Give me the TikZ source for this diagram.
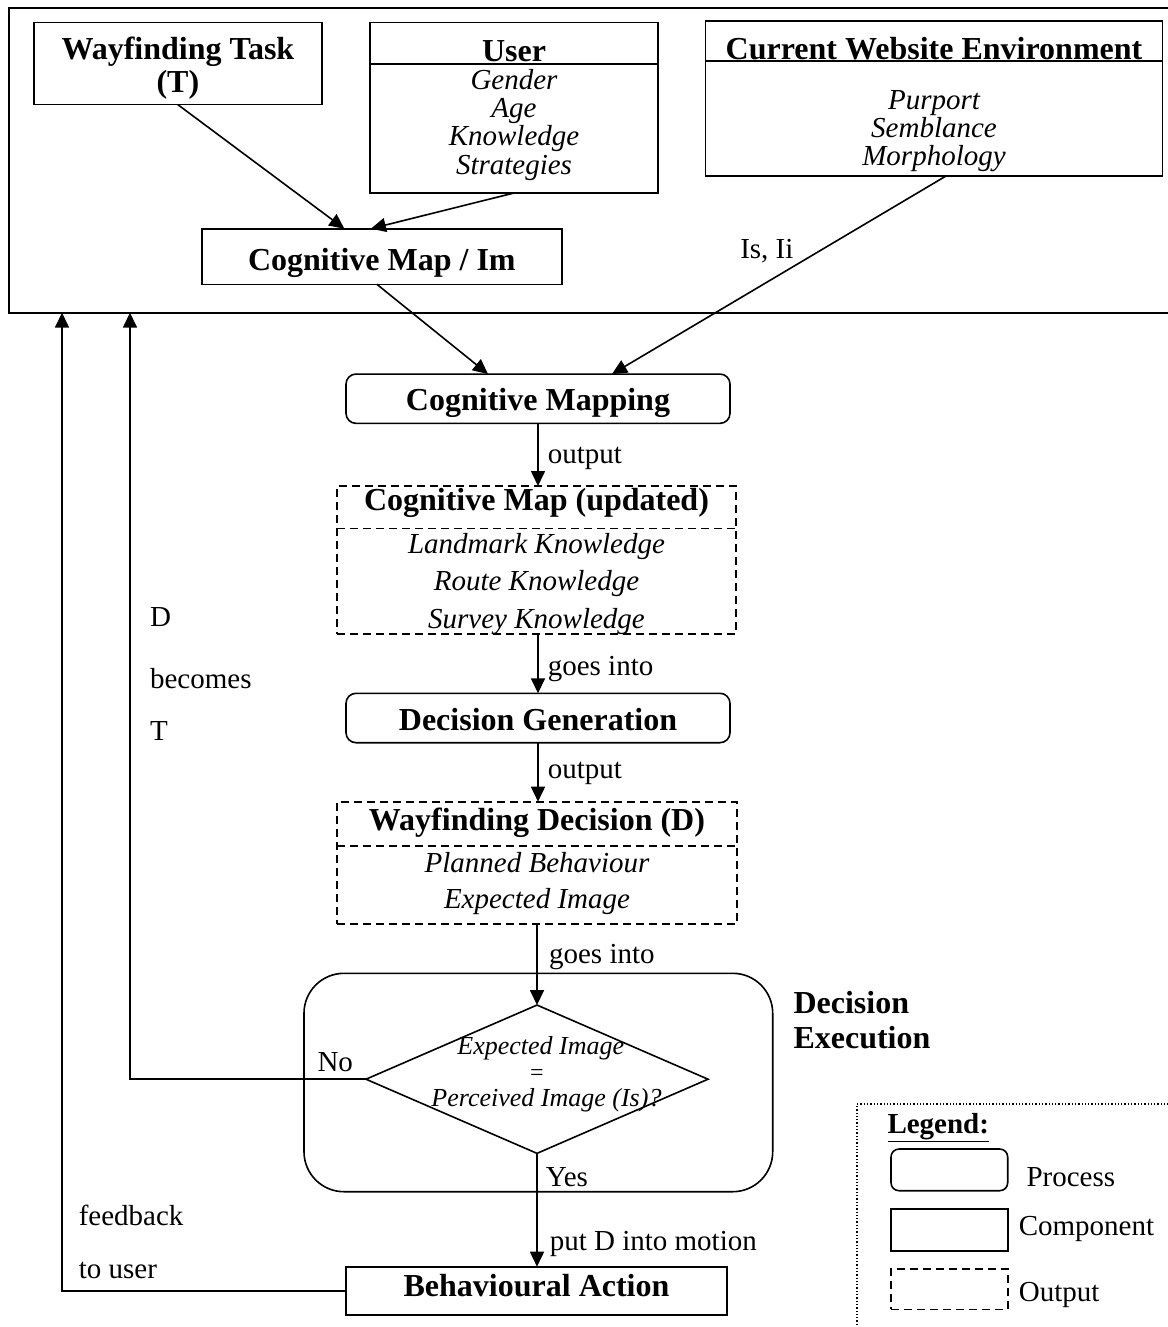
\documentclass[tikz,border=0pt]{standalone}
\usepackage{fontspec}
\setmainfont{Liberation Serif}
\usetikzlibrary{arrows.meta,shapes.geometric}
\begin{document}
\begin{tikzpicture}[x=1pt,y=-1pt,line width=1.6pt,
  box/.style={draw,rectangle,inner sep=0pt,outer sep=0pt},
  proc/.style={box,rounded corners=10pt},
  outbox/.style={box,dash pattern=on 8pt off 5pt},
  hd/.style={font=\fontsize{32}{36}\selectfont\bfseries,inner sep=0pt,anchor=base},
  itx/.style={font=\fontsize{29}{33}\selectfont\itshape,inner sep=0pt,anchor=base},
  ditx/.style={font=\fontsize{26}{30}\selectfont\itshape,inner sep=0pt,anchor=base},
  lbl/.style={font=\fontsize{29}{33}\selectfont,inner sep=0pt,anchor=base west},
  arr/.style={-{Triangle[length=15pt,width=14pt]},line width=1.6pt},
  divider/.style={line width=1.6pt},
]
\useasboundingbox (0,0) rectangle (1167,1327);

% outer frame (open to the right)
\node[box,minimum width=1191pt,minimum height=304.4pt] (frame) at (604.5,160.5) {};

% Wayfinding Task
\node[box,minimum width=288.3pt,minimum height=82pt] (task) at (177.9,63.7) {};
\node[hd] (taskt1) at (177.9,59.5) {Wayfinding Task};
\node[hd] (taskt2) at (177.9,93) {(T)};

% User
\node[box,minimum width=288pt,minimum height=170.3pt] (user) at (514,107.85) {};
\draw[divider] (user.west |- 0,64) -- (user.east |- 0,64);
\node[hd] (usert) at (514,62) {User};
\node[itx] (u1) at (514,89.3) {Gender};
\node[itx] (u2) at (514,117.5) {Age};
\node[itx] (u3) at (514,145.8) {Knowledge};
\node[itx] (u4) at (514,174) {Strategies};

% Current Website Environment
\node[box,minimum width=457pt,minimum height=154.7pt] (web) at (934,98.35) {};
\draw[divider] (web.west |- 0,61) -- (web.east |- 0,61);
\node[hd] (webt) at (934,59.5) {Current Website Environment};
\node[itx] (w1) at (934,109.3) {Purport};
\node[itx] (w2) at (934,137.6) {Semblance};
\node[itx] (w3) at (934,165.9) {Morphology};

% Cognitive Map / Im
\node[box,minimum width=360.3pt,minimum height=55.6pt] (cogim) at (381.85,256.5) {};
\node[hd] (cogimt) at (381.85,270.7) {Cognitive Map / Im};

% Cognitive Mapping
\node[proc,minimum width=384pt,minimum height=49.3pt] (cmap) at (538,398.7) {};
\node[hd] (cmapt) at (538,410.7) {Cognitive Mapping};

% Cognitive Map (updated)
\node[outbox,minimum width=399pt,minimum height=148pt] (cupd) at (536.5,560) {};
\draw[divider,dash pattern=on 8pt off 5pt] (cupd.west |- 0,528.3) -- (cupd.east |- 0,528.3);
\node[hd] (cupdt) at (536.5,510) {Cognitive Map (updated)};
\node[itx] (c1) at (536.5,553.3) {Landmark Knowledge};
\node[itx] (c2) at (536.5,590.7) {Route Knowledge};
\node[itx] (c3) at (536.5,628.3) {Survey Knowledge};

% Decision Generation
\node[proc,minimum width=384pt,minimum height=49.4pt] (decgen) at (538,718) {};
\node[hd] (decgent) at (538,730) {Decision Generation};

% Wayfinding Decision (D)
\node[outbox,minimum width=399.7pt,minimum height=122.3pt] (waydec) at (537,862.85) {};
\draw[divider,dash pattern=on 8pt off 5pt] (waydec.west |- 0,846) -- (waydec.east |- 0,846);
\node[hd] (waydect) at (537,830) {Wayfinding Decision (D)};
\node[itx] (d1) at (537,872.7) {Planned Behaviour};
\node[itx] (d2) at (537,908.3) {Expected Image};

% Decision Execution
\node[box,rounded corners=40pt,minimum width=468.7pt,minimum height=218.4pt] (exec) at (538.35,1082.5) {};
\node[hd,anchor=base west] (exect1) at (792.7,1013.3) {Decision};
\node[hd,anchor=base west] (exect2) at (792.7,1048.3) {Execution};

% Diamond
\node[draw,diamond,minimum width=342pt,minimum height=148.3pt,inner sep=0pt,outer sep=0pt] (dia) at (537,1079.2) {};
\node[ditx] (dia1) at (540.8,1054) {Expected Image};
\node[font=\fontsize{24}{28}\selectfont,inner sep=0pt,anchor=base] (dia2) at (537,1080) {=};
\node[ditx] (dia3) at (546.5,1106.7) {Perceived Image (Is)?};

% Behavioural Action
\node[box,minimum width=381pt,minimum height=48.3pt] (behav) at (536.5,1290.85) {};
\node[hd] (behavt) at (536.5,1296.7) {Behavioural Action};

% connectors inside the frame
\draw[arr] (task.south) -- ([xshift=-37.5pt]cogim.north);
\draw[arr] (user.south) -- ([xshift=-11pt]cogim.north);
\draw[arr] ([xshift=-5pt]cogim.south) -- ([xshift=-50pt]cmap.north);
\draw[arr] ([xshift=12.5pt]web.south) -- ([xshift=74pt]cmap.north);
\node[lbl] (isii) at (739.5,258.3) {Is, Ii};

% vertical chain
\draw[arr] (cmap.south) -- (cmap.south |- cupd.north);
\node[lbl] (l1) at (547,463.3) {output};
\draw[arr] (decgen.north |- cupd.south) -- (decgen.north);
\node[lbl] (l2) at (547,675) {goes into};
\draw[arr] (decgen.south) -- (decgen.south |- waydec.north);
\node[lbl] (l3) at (547,778.3) {output};
\draw[arr] (dia.north |- waydec.south) -- (dia.north);
\node[lbl] (l4) at (548.3,963.3) {goes into};
\draw[arr] (dia.south) -- (dia.south |- behav.north);
\node[lbl] (yes) at (545,1186.7) {Yes};
\node[lbl] (mot) at (549,1250) {put D into motion};

% No loop
\coordinate (notip) at (130,312.7);
\draw[arr] (dia.west) -| (notip);
\node[lbl] (no) at (316.7,1071.7) {No};
\node[lbl] (dbt1) at (149.3,626.7) {D};
\node[lbl] (dbt2) at (149.3,688.3) {becomes};
\node[lbl] (dbt3) at (149.3,740) {T};

% feedback loop
\coordinate (fbtip) at (62,312.7);
\draw[arr] (behav.west) -| (fbtip);
\node[lbl] (fb1) at (78,1225) {feedback};
\node[lbl] (fb2) at (78,1278) {to user};

% Legend
\node[box,dotted,line width=1.3pt,minimum width=343pt,minimum height=246pt] (legend) at (1028.5,1227) {};
\node[lbl,font=\fontsize{29}{33}\selectfont\bfseries] (legt) at (886.7,1133.3) {\underline{Legend:}};
\node[proc,rounded corners=8pt,minimum width=116.7pt,minimum height=41.7pt] (lp) at (949.35,1169.85) {};
\node[lbl] (lpt) at (1025.7,1186.7) {Process};
\node[box,minimum width=116.7pt,minimum height=41.7pt] (lc) at (949.35,1229.85) {};
\node[lbl] (lct) at (1018,1235.7) {Component};
\node[outbox,minimum width=116.7pt,minimum height=40.3pt] (lo) at (949.35,1289.15) {};
\node[lbl] (lot) at (1018,1301.7) {Output};
\end{tikzpicture}
\end{document}
